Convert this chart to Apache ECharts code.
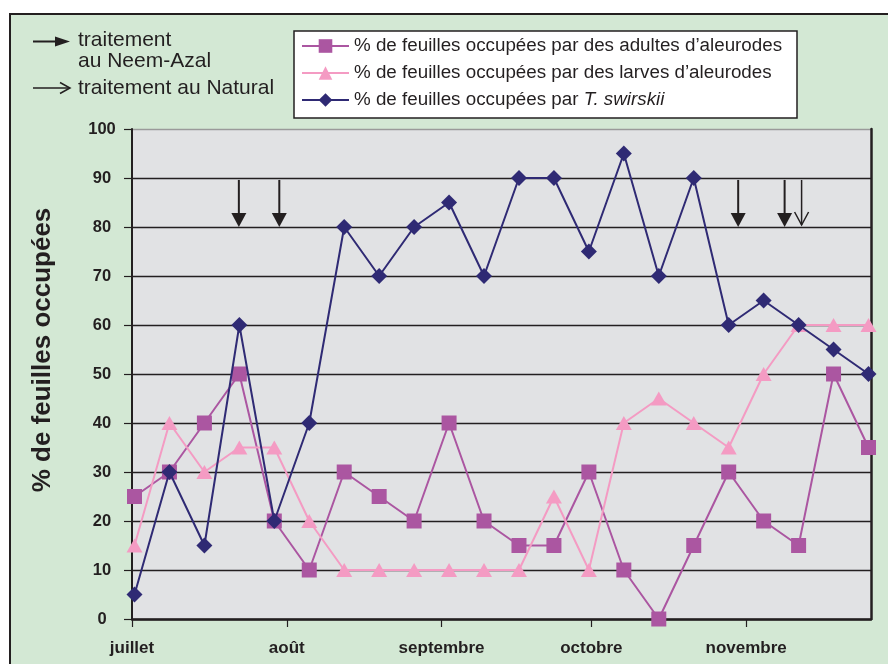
<!DOCTYPE html>
<html>
<head>
<meta charset="utf-8">
<script src="https://cdn.jsdelivr.net/npm/echarts@6/dist/echarts.min.js"></script>
<style>
  html, body { margin: 0; padding: 0; background: #ffffff; }
  #frame { position: absolute; left: 9px; top: 13px; width: 900px; height: 700px; background: #d3e8d4; border-left: 2px solid #231f20; border-top: 2px solid #231f20; box-sizing: border-box; }
  #chart { position: absolute; left: 0; top: 0; width: 888px; height: 664px; }
</style>
</head>
<body>
<div id="frame"></div>
<div id="chart"></div>
<script>
// Sampling days (days since 1 July, sampled around midday)
const sampleDays = [0.5, 7.5, 14.5, 21.5, 28.5, 35.5, 42.5, 49.5, 56.5, 63.5, 70.5, 77.5, 84.5, 91.5, 98.5, 105.5, 112.5, 119.5, 126.5, 133.5, 140.5, 147.5];
const adultes  = [25, 30, 40, 50, 20, 10, 30, 25, 20, 40, 20, 15, 15, 30, 10, 0, 15, 30, 20, 15, 50, 35];
const larves   = [15, 40, 30, 35, 35, 20, 10, 10, 10, 10, 10, 10, 25, 10, 40, 45, 40, 35, 50, 60, 60, 60];
const swirskii = [5, 30, 15, 60, 20, 40, 80, 70, 80, 85, 70, 90, 90, 75, 95, 70, 90, 60, 65, 60, 55, 50];

// Month starts (days since 1 July) and their labels
const monthDays   = [0, 31, 62, 92, 123];
const monthLabels = ['juillet', 'août', 'septembre', 'octobre', 'novembre'];

// Treatments: day, kind (0 = Neem-Azal, 1 = Natural)
const treatmentDays  = [21.4, 29.5, 121.4, 130.7, 134.1];
const treatmentKinds = [0, 0, 0, 0, 1];
const arrowTop = 89.6, arrowTip = 80;

const seriesNames = [
  '% de feuilles occupées par des adultes d’aleurodes',
  '% de feuilles occupées par des larves d’aleurodes',
  '% de feuilles occupées par T. swirskii'
];

const FONT = '"Liberation Sans", Arial, Helvetica, sans-serif';
const INK = '#231f20';
const C_ADU = '#ab56a1', C_LAR = '#f49bc3', C_SWI = '#2f2a74';

const toPairs = vals => sampleDays.map((d, i) => [d, vals[i]]);
const treatData = treatmentDays.map((d, i) => [d, arrowTop, arrowTip, treatmentKinds[i]]);

const chart = echarts.init(document.getElementById('chart'), null, { renderer: 'canvas' });

const gridLineColors = [];
for (let i = 0; i < 10; i++) gridLineColors.push(INK);
gridLineColors.push('#9a9a9a');

const option = {
  backgroundColor: 'transparent',
  animation: false,
  textStyle: { fontFamily: FONT },
  grid: { left: 132, right: 17, top: 129, bottom: 45, show: true, backgroundColor: '#e1e2e4', borderWidth: 0 },
  xAxis: {
    type: 'value', min: 0, max: 148,
    axisLine: { show: true, lineStyle: { color: INK, width: 2.5 } },
    axisTick: { show: true, customValues: monthDays, length: 8, lineStyle: { color: INK, width: 1.2 } },
    axisLabel: {
      customValues: monthDays,
      formatter: v => monthLabels[monthDays.indexOf(v)] || '',
      margin: 21, color: INK, fontWeight: 'bold', fontSize: 17, fontFamily: FONT
    },
    splitLine: { show: false }
  },
  yAxis: [{
    type: 'value', min: 0, max: 100, interval: 10,
    axisLine: { show: true, lineStyle: { color: INK, width: 2 } },
    axisTick: { show: true, length: 8, lineStyle: { color: INK, width: 1.2 } },
    axisLabel: { margin: 30, align: 'center', color: INK, fontWeight: 'bold', fontSize: 16.5, fontFamily: FONT },
    splitLine: { show: true, lineStyle: { color: gridLineColors, width: 1.3 } }
  }, {
    type: 'value', min: 0, max: 100, position: 'right',
    axisLine: { show: true, lineStyle: { color: INK, width: 2.5 } },
    axisTick: { show: false }, axisLabel: { show: false }, splitLine: { show: false }
  }],
  legend: {
    left: 301, top: 35, orient: 'vertical',
    itemWidth: 47, itemHeight: 17, itemGap: 5,
    padding: 0,
    textStyle: {
      fontSize: 18.8, lineHeight: 22, color: INK, fontFamily: FONT,
      rich: { it: { fontStyle: 'italic', fontSize: 18.8, lineHeight: 22, color: INK, fontFamily: FONT } }
    },
    formatter: name => name.indexOf('T. swirskii') >= 0 ? '% de feuilles occupées par {it|T. swirskii}' : name,
    data: seriesNames
  },
  graphic: [
    { type: 'rect', z: 0, shape: { x: 294, y: 31, width: 503, height: 87 }, style: { fill: '#ffffff', stroke: INK, lineWidth: 1.5 } },
    // y axis title
    { type: 'text', x: 43, y: 350, rotation: Math.PI / 2,
      style: { text: '% de feuilles occupées', fontSize: 26, fontWeight: 'bold', fontFamily: FONT, fill: INK, align: 'center', verticalAlign: 'middle' } },
    // treatment key
    { type: 'line', shape: { x1: 33, y1: 41.5, x2: 58, y2: 41.5 }, style: { stroke: INK, lineWidth: 2 } },
    { type: 'polygon', shape: { points: [[55, 36.5], [70, 41.5], [55, 46.5]] }, style: { fill: INK } },
    { type: 'text', x: 78, y: 40, style: { text: 'traitement', fontSize: 21, fontFamily: FONT, fill: INK, verticalAlign: 'middle' } },
    { type: 'text', x: 78, y: 61, style: { text: 'au Neem-Azal', fontSize: 21, fontFamily: FONT, fill: INK, verticalAlign: 'middle' } },
    { type: 'line', shape: { x1: 33, y1: 88, x2: 69, y2: 88 }, style: { stroke: INK, lineWidth: 1.5 } },
    { type: 'polyline', shape: { points: [[60, 82.5], [70, 88], [60, 93.5]] }, style: { stroke: INK, lineWidth: 1.5, fill: null } },
    { type: 'text', x: 78, y: 88, style: { text: 'traitement au Natural', fontSize: 21, fontFamily: FONT, fill: INK, verticalAlign: 'middle' } }
  ],
  series: [
    {
      name: seriesNames[0], type: 'line', data: toPairs(adultes),
      symbol: 'rect', symbolSize: 15,
      lineStyle: { color: C_ADU, width: 2 }, itemStyle: { color: C_ADU }, z: 3
    },
    {
      name: seriesNames[1], type: 'line', data: toPairs(larves),
      symbol: 'triangle', symbolSize: [16, 14],
      lineStyle: { color: C_LAR, width: 2 }, itemStyle: { color: C_LAR }, z: 4
    },
    {
      name: seriesNames[2], type: 'line', data: toPairs(swirskii),
      symbol: 'diamond', symbolSize: [16, 16],
      lineStyle: { color: C_SWI, width: 2 }, itemStyle: { color: C_SWI }, z: 5
    },
    {
      type: 'custom', data: treatData, clip: false, z: 6, silent: true,
      renderItem: (params, api) => {
        const top = api.coord([api.value(0), api.value(1)]);
        const tip = api.coord([api.value(0), api.value(2)]);
        const x = top[0];
        if (api.value(3) === 0) {
          return { type: 'group', children: [
            { type: 'line', shape: { x1: x, y1: top[1], x2: x, y2: tip[1] - 12 }, style: { stroke: INK, lineWidth: 2 } },
            { type: 'polygon', shape: { points: [[x - 7.5, tip[1] - 14], [x + 7.5, tip[1] - 14], [x, tip[1]]] }, style: { fill: INK } }
          ] };
        }
        return { type: 'group', children: [
          { type: 'line', shape: { x1: x, y1: top[1], x2: x, y2: tip[1] - 2 }, style: { stroke: INK, lineWidth: 1.5 } },
          { type: 'polyline', shape: { points: [[x - 7, tip[1] - 15], [x, tip[1] - 2], [x + 7, tip[1] - 15]] }, style: { stroke: INK, lineWidth: 1.5, fill: null } }
        ] };
      }
    }
  ]
};
chart.setOption(option);
</script>
</body>
</html>
